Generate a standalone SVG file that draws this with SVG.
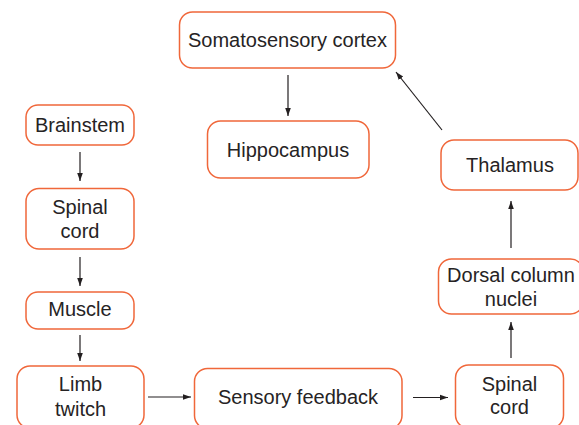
<svg xmlns="http://www.w3.org/2000/svg" width="579" height="425" viewBox="0 0 579 425">
<defs>
<style>
.box{fill:#ffffff;stroke:#f0673a;stroke-width:1.5}
.t{font-family:"Liberation Sans",Arial,sans-serif;font-size:20px;fill:#262324;text-anchor:middle}
.c{stroke:#231f20;stroke-width:1.2;fill:none;marker-end:url(#ah)}
</style>
<marker id="ah" viewBox="0 0 10 10" refX="10" refY="5" markerWidth="8" markerHeight="8" markerUnits="userSpaceOnUse" orient="auto">
<path d="M0,1.5 L10,5 L0,8.5 Z" fill="#231f20"/>
</marker>
</defs>
<rect width="579" height="425" fill="#ffffff"/>
<g id="connectors">
<line class="c" x1="288" y1="75" x2="288" y2="116"/>
<line class="c" x1="80" y1="152" x2="80" y2="181"/>
<line class="c" x1="80" y1="257" x2="80" y2="286"/>
<line class="c" x1="80" y1="335" x2="80" y2="361"/>
<line class="c" x1="148" y1="397" x2="191" y2="397"/>
<line class="c" x1="413" y1="397.5" x2="448" y2="397.5"/>
<line class="c" x1="511" y1="358" x2="511" y2="322"/>
<line class="c" x1="511" y1="248" x2="511" y2="201"/>
<line class="c" x1="442" y1="130" x2="396" y2="72"/>
</g>
<g id="somatosensory-cortex">
<rect class="box" x="179.5" y="12" width="216" height="56" rx="13"/>
<text class="t" x="287.5" y="47">Somatosensory cortex</text>
</g>
<g id="hippocampus">
<rect class="box" x="207.5" y="121" width="161.5" height="57" rx="13"/>
<text class="t" x="288" y="157">Hippocampus</text>
</g>
<g id="brainstem">
<rect class="box" x="26" y="105" width="108" height="40" rx="12"/>
<text class="t" x="80" y="132">Brainstem</text>
</g>
<g id="spinal-cord-left">
<rect class="box" x="26" y="188.5" width="108" height="60.5" rx="13"/>
<text class="t" x="80" y="213.5">Spinal</text>
<text class="t" x="80" y="237.5">cord</text>
</g>
<g id="muscle">
<rect class="box" x="26" y="292" width="108" height="37" rx="12"/>
<text class="t" x="80" y="316">Muscle</text>
</g>
<g id="limb-twitch">
<rect class="box" x="17" y="366" width="127" height="62" rx="13"/>
<text class="t" x="80.5" y="391">Limb</text>
<text class="t" x="80.5" y="415.5">twitch</text>
</g>
<g id="sensory-feedback">
<rect class="box" x="194.5" y="368.5" width="207.5" height="60" rx="13"/>
<text class="t" x="298" y="404">Sensory feedback</text>
</g>
<g id="spinal-cord-right">
<rect class="box" x="455.5" y="365" width="108" height="63" rx="13"/>
<text class="t" x="509.5" y="390.5">Spinal</text>
<text class="t" x="509.5" y="414">cord</text>
</g>
<g id="dorsal-column-nuclei">
<rect class="box" x="438.5" y="259" width="145" height="55" rx="13"/>
<text class="t" x="511" y="282">Dorsal column</text>
<text class="t" x="511" y="305.5">nuclei</text>
</g>
<g id="thalamus">
<rect class="box" x="441" y="140" width="137" height="50" rx="13"/>
<text class="t" x="510" y="172">Thalamus</text>
</g>
</svg>
